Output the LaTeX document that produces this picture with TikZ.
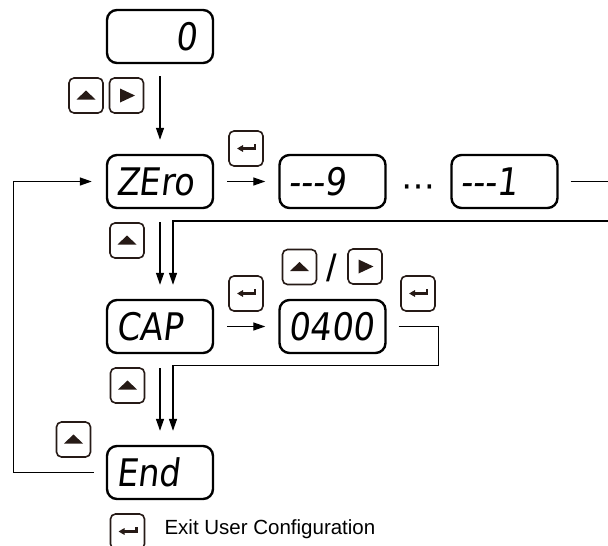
\documentclass[tikz,border=0pt]{standalone}
\usepackage{fontspec}
\setsansfont{Liberation Sans}
\newfontfamily\segfont[FakeSlant=0.12,FakeStretch=0.88]{DejaVu Sans}
\newfontfamily\dotfont{DejaVu Sans}
\usetikzlibrary{arrows.meta}
\definecolor{keybrown}{RGB}{38,26,22}

\begin{document}
\begin{tikzpicture}[
        x=1pt, y=-1pt,
        font=\sffamily
    ]
    \tikzset{
        disp/.style = {rectangle, draw=black, line width=2.4pt, rounded corners=10pt,
            minimum width=106pt, minimum height=53pt, inner xsep=9pt, text width=88pt,
            text height=27pt, text depth=0pt, font=\segfont\fontsize{38}{38}\selectfont},
        key/.style = {rectangle, draw=keybrown, line width=1.6pt, rounded corners=5pt,
            minimum width=34pt, minimum height=35pt, inner sep=0pt},
        keyup/.style = {key, path picture={
            \fill[keybrown, sharp corners] ([shift={(-9.5pt,-4pt)}]path picture bounding box.center)
                -- ([shift={(9.5pt,-4pt)}]path picture bounding box.center)
                -- ([shift={(0pt,5pt)}]path picture bounding box.center) -- cycle;}},
        keyright/.style = {key, path picture={
            \fill[keybrown, sharp corners] ([shift={(-6.5pt,7pt)}]path picture bounding box.center)
                -- ([shift={(8.5pt,0pt)}]path picture bounding box.center)
                -- ([shift={(-6.5pt,-7pt)}]path picture bounding box.center) -- cycle;}},
        keyenter/.style = {key, path picture={
            \draw[keybrown, line width=2.2pt, sharp corners, -{Triangle[length=6pt,width=6.5pt]}]
                ([shift={(9pt,4.5pt)}]path picture bounding box.center)
                -- ([shift={(9pt,0pt)}]path picture bounding box.center)
                -- ([shift={(-9pt,0pt)}]path picture bounding box.center);}},
        line/.style = {line width=1.3pt},
        conn/.style = {line, -{Triangle[length=12pt,width=8pt]}},
    }
    \useasboundingbox (0,0) rectangle (608,546);
    % displays
    \node[disp, align=right] at (160,36.5) (init) {0\kern7pt};
    \node[disp] at (160,181.5) (zero) {ZEro};
    \node[disp] at (332.5,181.5) (nine) {-{}-{}-9};
    \node[disp] at (504.5,181.5) (one) {-{}-{}-1};
    \node[disp] at (160,326.5) (cap) {CAP};
    \node[disp] at (332.5,326.5) (val) {0400};
    \node[disp] at (160,472.5) (fin) {End};
    \node[font=\dotfont\fontsize{34}{34}\selectfont] at (418,191) (dots) {⋯};
    % keys
    \node[keyup] at (86,95.5) (k1) {};
    \node[keyright] at (126.5,95.5) (k2) {};
    \node[keyenter] at (246,148.5) (k3) {};
    \node[keyup] at (127,240.5) (k4) {};
    \node[keyenter] at (246,293.5) (k5) {};
    \node[keyup] at (299.5,267) (k6) {};
    \node[font=\sffamily\fontsize{38}{38}\selectfont] at (332,268) (slash) {/};
    \node[keyright] at (365,266.5) (k7) {};
    \node[keyenter] at (418,293.5) (k8) {};
    \node[keyup] at (127.5,385.5) (k9) {};
    \node[keyup] at (73.5,439.5) (k10) {};
    \node[keyenter] at (127.5,531.5) (k11) {};
    \node[anchor=west, font=\sffamily\fontsize{20.5}{21}\selectfont] at (161,529.5) (legend) {Exit User Configuration};
    %
    \coordinate (outR) at (608,181.5);
    \coordinate (inR) at (608,221);
    %
    \draw[conn, shorten <=12pt, shorten >=14pt] (init.south) -- (zero.north);
    \draw[conn, shorten <=13pt, shorten >=13pt] (zero.east) -- (nine.west);
    \draw[line] ([xshift=12pt]one.east) -- (outR);
    %
    \draw[conn] (inR) -| ([xshift=13pt,yshift=14pt]cap.north);
    \draw[conn, shorten <=13pt, shorten >=14pt] (zero.south) -- (cap.north);
    \draw[conn, shorten <=13pt, shorten >=13pt] (cap.east) -- (val.west);
    %
    \draw[conn] ([xshift=12pt]val.east) -- ++(40,0) -- ++(0,39) -| ([xshift=13pt,yshift=14pt]fin.north);
    \draw[conn, shorten <=14pt, shorten >=14pt] (cap.south) -- (fin.north);
    \draw[conn] ([xshift=-12pt]fin.west) -- ++(-80,0) |- ([xshift=-14pt]zero.west);
\end{tikzpicture}
\end{document}
